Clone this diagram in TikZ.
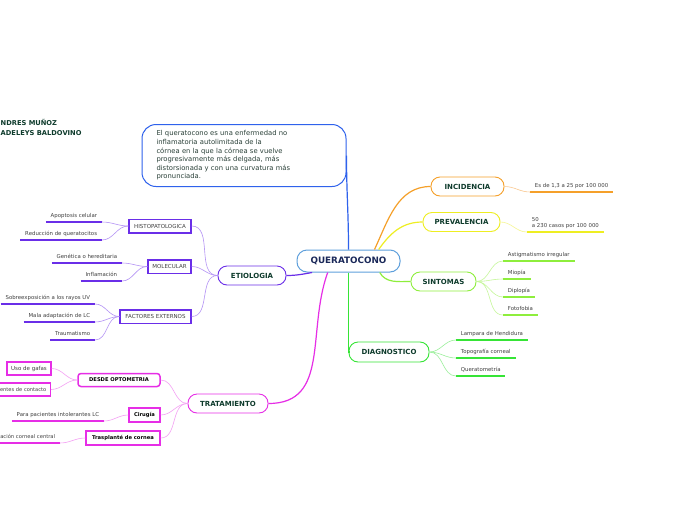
\documentclass[tikz,border=0pt]{standalone}
\usepackage{fontspec}
\setmainfont{DejaVu Sans}
\usepackage{tikz}
\usetikzlibrary{calc}
\definecolor{txtgreen}{HTML}{0E3B2C}
\definecolor{descgray}{HTML}{2A4038}
\definecolor{leafgray}{HTML}{404040}
\definecolor{rootnavy}{HTML}{1A2859}
\definecolor{rootblue}{HTML}{5FA0DC}
\definecolor{descblue}{HTML}{2F62EC}
\definecolor{incorange}{HTML}{F5A02A}
\definecolor{inclight}{HTML}{FAC890}
\definecolor{prevyellow}{HTML}{EEEE22}
\definecolor{prevlight}{HTML}{F6F690}
\definecolor{sintgreen}{HTML}{8EEE3C}
\definecolor{sintlight}{HTML}{C6F79A}
\definecolor{diaggreen}{HTML}{36E436}
\definecolor{diaglight}{HTML}{9CF09C}
\definecolor{etiopurple}{HTML}{6A2EE8}
\definecolor{etiolight}{HTML}{B493F5}
\definecolor{tratmag}{HTML}{E62EE6}
\definecolor{tratlight}{HTML}{F4A0F4}

\begin{document}
\begin{tikzpicture}[x=1pt, y=-1pt, line width=0.8pt,
  every node/.style={inner sep=0pt},
  root/.style={draw=rootblue, line width=1pt, rounded corners=10pt, fill=white,
    minimum width=103pt, minimum height=22pt, text=rootnavy,
    font=\fontsize{8.8}{10}\selectfont\bfseries},
  topic/.style={draw, line width=0.9pt, rounded corners=9pt, fill=white,
    minimum height=19pt, text=txtgreen, font=\fontsize{7}{8}\selectfont\bfseries},
  subbox/.style={draw, line width=1.5pt, fill=white, minimum height=13.5pt,
    text=leafgray, font=\fontsize{5.5}{6}\selectfont},
  tratbox/.style={subbox, draw=tratmag, minimum height=14pt, text=black,
    font=\fontsize{5.2}{6}\selectfont\bfseries},
  leaf/.style={inner xsep=4.5pt, inner ysep=2.5pt, text depth=1.4pt, text=leafgray,
    font=\fontsize{5.4}{6.6}\selectfont},
  ul/.style={line width=1.5pt},
  link/.style={line width=0.6pt},
  branch/.style={line width=1.2pt}]

\path[use as bounding box, fill=white] (0,0) rectangle (696,520);

% authors and description
\node[anchor=north west, align=left, text=txtgreen,
  font=\fontsize{6.7}{9.7}\selectfont\bfseries] (autores) at (0.3,119)
  {NDRES MUÑOZ\\ADELEYS BALDOVINO};
\node[draw=descblue, line width=1pt, rounded corners=14pt, fill=white,
  minimum width=204pt, minimum height=62pt, text width=175pt, align=left,
  text=descgray, font=\fontsize{6.8}{8.6}\selectfont] (descripcion) at (244,155.5)
  {El queratocono es una enfermedad no\\ inflamatoria autolimitada de la\\
   córnea en la que la córnea se vuelve\\ progresivamente más delgada, más\\
   distorsionada y con una curvatura más\\ pronunciada.};

% central topic and main topics
\node[root] (queratocono) at (348.5,261) {QUERATOCONO};
\node[topic, draw=incorange, minimum width=73pt] (incidencia) at (467.5,186.5) {INCIDENCIA};
\node[topic, draw=prevyellow, minimum width=77pt] (prevalencia) at (461.5,222) {PREVALENCIA};
\node[topic, draw=sintgreen, minimum width=65pt] (sintomas) at (443.5,281.5) {SINTOMAS};
\node[topic, draw=diaggreen, minimum width=80pt, minimum height=20pt] (diagnostico) at (389,352) {DIAGNOSTICO};
\node[topic, draw=etiopurple, minimum width=68pt] (etiologia) at (252,275.5) {ETIOLOGIA};
\node[topic, draw=tratmag, minimum width=80pt] (tratamiento) at (228,403.5) {TRATAMIENTO};

% branches from the centre
\draw[branch, descblue] (descripcion.east) to[out=-90,in=90] (queratocono.north);
\draw[branch, incorange] ($(queratocono.north)!0.5!(queratocono.north east)$) to[out=65,in=180] (incidencia.west);
\draw[branch, prevyellow] ($(queratocono.north)!0.58!(queratocono.north east)$) to[out=55,in=180] (prevalencia.west);
\draw[branch, sintgreen] ($(queratocono.south)!0.6!(queratocono.south east)$) to[out=-60,in=180] (sintomas.west);
\draw[branch, diaggreen] (queratocono.south) |- (diagnostico.west);
\draw[branch, etiopurple] ($(queratocono.south west)!0.3!(queratocono.south)$) to[out=190,in=0] (etiologia.east);
\draw[branch, tratmag] ($(queratocono.south west)!0.6!(queratocono.south)$) to[out=-110,in=0,looseness=1.1] (tratamiento.east);

% INCIDENCIA and PREVALENCIA
\node[leaf, anchor=south west] (tasa) at (530,192) {Es de 1,3 a 25 por 100 000};
\draw[ul, incorange] (tasa.south west) -- (tasa.south east);
\draw[link, inclight] (incidencia.east) to[out=0,in=180] (tasa.south west);
\node[leaf, anchor=south west, align=left] (casos) at (527,232) {50\\a 230 casos por 100 000};
\draw[ul, prevyellow] (casos.south west) -- (casos.south east);
\draw[link, prevlight] (prevalencia.east) to[out=0,in=180] (casos.south west);

% SINTOMAS
\foreach \nm/\y/\txt in {astigmatismo/261/Astigmatismo irregular, miopia/279/Miopía,
                         diplopia/297/Diplopía, fotofobia/315/Fotofobia}{
  \node[leaf, anchor=south west] (\nm) at (503,\y) {\txt};
  \draw[ul, sintgreen] (\nm.south west) -- (\nm.south east);
  \draw[link, sintlight] (sintomas.east) to[out=0,in=180] (\nm.south west);
}

% DIAGNOSTICO
\foreach \nm/\y/\txt in {lampara/340/Lampara de Hendidura, topografia/358/Topografía corneal,
                         queratometria/376/Queratometría}{
  \node[leaf, anchor=south west] (\nm) at (456,\y) {\txt};
  \draw[ul, diaggreen] (\nm.south west) -- (\nm.south east);
  \draw[link, diaglight] (diagnostico.east) to[out=0,in=180] (\nm.south west);
}

% ETIOLOGIA
\node[subbox, draw=etiopurple, minimum width=62pt] (histopatologica) at (160,226) {HISTOPATOLOGICA};
\node[subbox, draw=etiopurple, minimum width=43pt] (molecular) at (169.5,266.5) {MOLECULAR};
\node[subbox, draw=etiopurple, minimum width=71pt] (factores) at (155.5,316.5) {FACTORES EXTERNOS};
\foreach \sb in {histopatologica, molecular, factores}
  \draw[link, etiolight] (etiologia.west) to[out=180,in=0] (\sb.east);
\foreach \sb/\nm/\x/\y/\txt in {histopatologica/apoptosis/102/222/Apoptosis celular,
    histopatologica/reduccion/102/240/Reducción de queratocitos,
    molecular/genetica/122/263/Genética o hereditaria,
    molecular/inflamacion/122/281/Inflamación,
    factores/rayos/95/304/Sobreexposición a los rayos UV,
    factores/adaptacion/95/322/Mala adaptación de LC,
    factores/traumatismo/95/340/Traumatismo}{
  \node[leaf, anchor=south east] (\nm) at (\x,\y) {\txt};
  \draw[ul, etiopurple] (\nm.south west) -- (\nm.south east);
  \draw[link, etiolight] (\sb.west) to[out=180,in=0] (\nm.south east);
}

% TRATAMIENTO
\node[tratbox, rounded corners=3pt, minimum width=82pt, minimum height=13pt] (optometria) at (119,380) {DESDE OPTOMETRIA};
\node[tratbox, minimum width=31pt] (cirugia) at (144.5,415) {Cirugía};
\node[tratbox, minimum width=74pt] (trasplante) at (123,438) {Trasplanté de cornea};
\foreach \sb in {optometria, cirugia, trasplante}
  \draw[link, tratlight] (tratamiento.west) to[out=180,in=0] (\sb.east);
\node[subbox, draw=tratmag, minimum width=44pt, minimum height=13pt] (gafas) at (29,368.5) {Uso de gafas};
\node[subbox, draw=tratmag, minimum height=13pt, inner xsep=4pt, text width=52pt, align=right,
  font=\fontsize{5.1}{6}\selectfont, anchor=east] (lentes) at (51,389.5) {entes de contacto};
\foreach \sb in {gafas, lentes}
  \draw[link, tratlight] (optometria.west) to[out=180,in=0] (\sb.east);
\node[leaf, anchor=south east] (intolerantes) at (104,421) {Para pacientes intolerantes LC};
\draw[ul, tratmag] (intolerantes.south west) -- (intolerantes.south east);
\draw[link, tratlight] (cirugia.west) to[out=180,in=0] (intolerantes.south east);
\node[leaf, anchor=south east, text width=62pt, align=right,
  font=\fontsize{5.2}{6.6}\selectfont] (central) at (60,443) {ación corneal central};
\draw[ul, tratmag] (central.south west) -- (central.south east);
\draw[link, tratlight] (trasplante.west) to[out=180,in=0] (central.south east);

\end{tikzpicture}
\end{document}
